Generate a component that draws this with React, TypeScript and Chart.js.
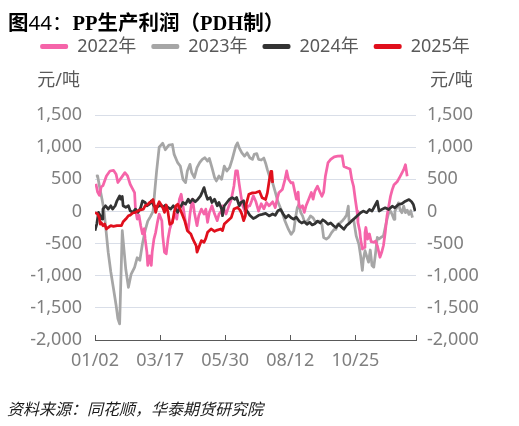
import { useEffect, useRef } from "react";
import { Chart, registerables } from "chart.js";

Chart.register(...registerables);

const FONT = '"Noto Sans", "Noto Sans CJK SC", sans-serif';

const seriesNames = ["2022年", "2023年", "2024年", "2025年"];
const seriesColors = ["#F564A9", "#A6A6A6", "#333333", "#E00F1C"];
const seriesOrder = [3, 4, 2, 1];

const tickDays = [0, 74, 148, 222, 296, 365];
const tickLabels = ["01/02", "03/17", "05/30", "08/12", "10/25", ""];

const yMin = -2000;
const yMax = 1500;
const yStep = 500;
const unitLabel = "元/吨";

const days2022 = [1, 3, 5, 7, 9, 13, 17, 21, 24, 26, 30, 34, 37, 40, 42, 45, 46, 48, 50, 52, 54, 56, 57, 59, 60, 62, 64, 65, 67, 69, 71, 73, 76, 77, 79, 81, 83, 85, 88, 91, 93, 96, 98, 100, 103, 106, 108, 110, 111, 113, 116, 118, 121, 124, 126, 128, 130, 133, 136, 139, 141, 144, 145, 149, 151, 155, 158, 160, 162, 164, 166, 168, 171, 174, 176, 178, 180, 183, 186, 189, 192, 195, 198, 202, 205, 207, 209, 213, 216, 218, 220, 223, 225, 227, 229, 231, 232, 234, 236, 238, 240, 243, 246, 248, 250, 253, 256, 258, 260, 262, 265, 268, 272, 276, 281, 283, 287, 290, 292, 294, 296, 298, 299, 301, 302, 304, 306, 307, 308, 310, 312, 314, 317, 319, 321, 322, 324, 326, 328, 330, 332, 334, 336, 338, 340, 342, 344, 347, 351, 353, 355];
const vals2022 = [430, 300, 250, 380, 400, 552, 629, 639, 577, 449, 526, 603, 552, 423, 371, 294, 36, -119, -60, -222, -350, -270, -428, -634, -840, -690, -840, -634, -430, -325, -170, -41, -144, -376, -634, -660, -430, -273, -144, -41, -119, 190, 268, 88, -170, -299, -41, 139, 190, -15, -222, -67, 36, -41, 36, -170, -15, 88, -41, -144, -41, 10, 88, -41, 36, 190, 397, 629, 629, 423, 242, 88, -15, 88, 88, 160, 242, 150, 5, 120, 40, 139, 88, 150, 60, 186, 289, 340, 495, 630, 500, 443, 449, 320, 190, 300, 82, 60, 88, -15, 88, 190, 294, 190, 314, 392, 294, 237, 300, 552, 760, 810, 850, 860, 866, 700, 675, 660, 495, 392, 185, 0, -174, -300, -430, -585, -560, -330, -250, -430, -350, -470, -480, -460, -533, -590, -713, -636, -530, -328, -72, 82, 236, 339, 416, 440, 470, 546, 650, 727, 546];

const days2023 = [1, 3, 5, 8, 10, 12, 15, 18, 21, 24, 26, 28, 31, 33, 35, 38, 41, 45, 48, 51, 54, 57, 60, 63, 66, 68, 70, 73, 77, 80, 84, 88, 90, 94, 97, 100, 103, 105, 108, 110, 113, 116, 119, 122, 125, 128, 130, 133, 136, 138, 141, 144, 147, 150, 153, 156, 160, 162, 164, 167, 170, 173, 176, 179, 181, 184, 186, 189, 192, 194, 196, 199, 202, 205, 208, 211, 213, 216, 220, 223, 226, 228, 230, 232, 234, 236, 238, 240, 243, 245, 248, 251, 255, 258, 260, 263, 266, 269, 272, 274, 276, 279, 281, 284, 286, 288, 289, 291, 294, 297, 300, 302, 304, 305, 307, 309, 311, 313, 315, 317, 319, 321, 323, 325, 328, 330, 332, 334, 336, 338, 340, 341, 343, 345, 347, 349, 351, 353, 355, 357, 359, 361];
const vals2023 = [550, 552, 397, 190, 36, -222, -634, -943, -1200, -1459, -1665, -1750, -300, -600, -900, -1180, -980, -870, -720, -760, -500, -300, -150, -80, 0, 320, 620, 1000, 1060, 960, 1030, 1041, 887, 758, 706, 500, 448, 629, 732, 603, 526, 680, 758, 809, 835, 783, 825, 680, 526, 474, 551, 500, 706, 629, 680, 809, 1015, 1067, 990, 912, 861, 912, 835, 809, 887, 900, 809, 800, 830, 750, 650, 520, 443, 300, 150, 50, -20, -150, -280, -356, -300, -100, 57, 108, -20, -70, -150, -175, -120, -70, -100, -175, -150, -200, -407, -430, -400, -330, -280, -278, -200, -174, -150, -100, -60, 82, -174, -150, -123, -380, -508, -687, -918, -760, -610, -700, -790, -600, -841, -867, -650, -405, -430, -405, -380, -250, -123, -20, 5, -50, -123, 5, 56, 133, 20, -20, 82, -20, 20, -46, 10, -97];

const days2024 = [0, 2, 4, 6, 8, 9, 12, 15, 18, 20, 23, 25, 28, 29, 31, 32, 35, 38, 40, 43, 46, 49, 52, 54, 57, 59, 62, 64, 67, 70, 73, 76, 78, 80, 83, 86, 89, 92, 94, 97, 100, 103, 106, 108, 111, 114, 117, 120, 122, 124, 126, 128, 131, 133, 136, 139, 141, 144, 145, 147, 150, 153, 156, 159, 161, 164, 166, 169, 171, 174, 176, 180, 183, 186, 190, 194, 198, 202, 205, 208, 211, 214, 217, 220, 223, 226, 229, 232, 235, 238, 241, 244, 247, 250, 253, 256, 259, 262, 265, 268, 271, 274, 277, 279, 283, 286, 290, 294, 298, 302, 305, 309, 312, 315, 319, 321, 323, 326, 330, 334, 338, 341, 345, 349, 353, 357, 360, 362, 364];
const vals2024 = [-299, -196, -15, -67, -119, 36, 88, 36, 88, 36, 88, 165, 242, 190, 232, 88, 62, 88, 10, -15, 36, -15, 62, 165, 139, 88, 113, 165, 88, 62, 88, 88, 62, 98, 62, 36, 88, 36, -15, 62, 139, 113, 190, 139, 190, 150, 190, 242, 304, 371, 268, 190, 216, 139, 190, 88, 139, 36, -67, 88, 139, 190, 216, 190, 216, 88, 139, 165, 36, -15, -60, -110, -90, -60, -46, -30, -70, -40, -60, 10, 31, -40, -100, -60, -100, -120, -90, -150, -180, -160, -200, -170, -210, -190, -150, -180, -130, -160, -200, -180, -220, -250, -200, -226, -277, -220, -174, -123, -72, -20, 5, -20, 30, 5, 108, 159, 5, 30, 56, 30, 82, 56, 108, 120, 159, 185, 150, 108, 5];

const days2025 = [0, 3, 5, 6, 7, 9, 11, 13, 15, 18, 21, 25, 28, 30, 32, 35, 38, 40, 43, 46, 49, 52, 55, 57, 60, 62, 64, 66, 68, 69, 71, 73, 75, 77, 79, 81, 83, 85, 88, 90, 92, 94, 96, 99, 102, 105, 109, 111, 113, 115, 116, 118, 121, 124, 126, 128, 132, 136, 139, 143, 145, 147, 151, 155, 158, 162, 165, 167, 169, 171, 172, 175, 179, 183, 187, 190, 194, 196, 198, 200, 201, 202];
const vals2025 = [-15, -41, -100, -196, -170, -222, -196, -273, -250, -222, -232, -222, -222, -222, -160, -119, -67, -57, -25, -15, 10, 25, 36, 88, 109, 139, 150, 186, 60, -15, 88, 150, 109, 60, -15, 100, -15, -200, -176, -15, 88, 113, 60, -40, -144, -299, -350, -420, -479, -531, -634, -560, -454, -480, -420, -325, -273, -310, -290, -273, -299, -196, -144, -93, 36, 62, 20, -41, -144, -67, 113, 268, 289, 294, 314, 211, 186, 289, 469, 624, 624, 443];

const seriesDays = [days2022, days2023, days2024, days2025];
const seriesVals = [vals2022, vals2023, vals2024, vals2025];

const tickMarksPlugin = {
  id: "tickMarks",
  afterDraw(chart: any) {
    const xs = chart.scales.x;
    const ctx = chart.ctx;
    ctx.save();
    ctx.strokeStyle = "#595959";
    ctx.lineWidth = 1;
    xs.ticks.forEach((t: any) => {
      const px = Math.round(xs.getPixelForValue(t.value)) + 0.5;
      ctx.beginPath();
      ctx.moveTo(px, xs.top);
      ctx.lineTo(px, xs.top - 5);
      ctx.stroke();
    });
    ctx.restore();
  },
};

const unitPlugin = {
  id: "unitLabels",
  afterDraw(chart: any) {
    const ctx = chart.ctx;
    const yl = chart.scales.y;
    const yr = chart.scales.y2;
    ctx.save();
    ctx.font = `18px ${FONT}`;
    ctx.fillStyle = "#595959";
    ctx.textBaseline = "middle";
    ctx.textAlign = "right";
    ctx.fillText(unitLabel, yl.right - 15, 81);
    ctx.textAlign = "left";
    ctx.fillText(unitLabel, yr.left + 14, 81);
    ctx.restore();
  },
};

export default function App() {
  const ref = useRef<HTMLCanvasElement>(null);

  useEffect(() => {
    if (!ref.current) return;
    const datasets = seriesNames.map((name, i) => ({
      label: name,
      data: seriesDays[i].map((d, k) => ({ x: d, y: seriesVals[i][k] })),
      borderColor: seriesColors[i],
      backgroundColor: seriesColors[i],
      borderWidth: 2.75,
      pointRadius: 0,
      tension: 0,
      borderJoinStyle: "round" as const,
      order: seriesOrder[i],
      yAxisID: "y",
    }));

    const chart = new Chart(ref.current, {
      type: "line",
      data: { datasets },
      plugins: [tickMarksPlugin, unitPlugin],
      options: {
        animation: false,
        responsive: false,
        layout: { padding: { top: 22.5, left: 0, right: 9, bottom: 0 } },
        plugins: {
          tooltip: { enabled: false },
          legend: {
            position: "top",
            labels: {
              boxWidth: 28,
              boxHeight: 5,
              padding: 15,
              color: "#595959",
              font: { size: 18, family: FONT },
              useBorderRadius: true,
              borderRadius: 2,
              generateLabels: (c: any) =>
                c.data.datasets.map((ds: any, i: number) => ({
                  text: ds.label,
                  fillStyle: ds.borderColor,
                  strokeStyle: ds.borderColor,
                  lineWidth: 0,
                  hidden: false,
                  datasetIndex: i,
                  borderRadius: 2,
                  fontColor: "#595959",
                })),
            },
          },
          subtitle: {
            display: true,
            text: "",
            position: "top",
            weight: 500,
            font: { size: 10, lineHeight: 1 },
            padding: { top: 20, bottom: 19.5 },
          } as any,
        },
        scales: {
          x: {
            type: "linear",
            min: 0,
            max: 365,
            grid: { display: false, drawTicks: false },
            border: { display: true, color: "#595959", width: 1 },
            afterBuildTicks: (s: any) => {
              s.ticks = tickDays.map((v) => ({ value: v }));
            },
            afterFit: (s: any) => {
              s.height = 86;
            },
            ticks: {
              autoSkip: false,
              maxRotation: 0,
              padding: 10,
              color: "#7F7F7F",
              font: { size: 18, family: FONT },
              callback: (v: any) => {
                const i = tickDays.indexOf(Number(v));
                return i >= 0 ? tickLabels[i] : "";
              },
            },
          },
          y: {
            type: "linear",
            position: "left",
            min: yMin,
            max: yMax,
            grid: { color: "#D9DEE8", lineWidth: 1, drawTicks: false },
            border: { display: false },
            afterFit: (s: any) => {
              s.width = 95;
            },
            ticks: {
              stepSize: yStep,
              padding: 13,
              color: "#7F7F7F",
              font: { size: 18, family: FONT },
              callback: (v: any) => Number(v).toLocaleString("en-US"),
            },
          },
          y2: {
            type: "linear",
            position: "right",
            min: yMin,
            max: yMax,
            grid: { display: false, drawTicks: false },
            border: { display: false },
            afterFit: (s: any) => {
              s.width = 94;
            },
            ticks: {
              stepSize: yStep,
              padding: 11,
              color: "#7F7F7F",
              font: { size: 18, family: FONT },
              callback: (v: any) => Number(v).toLocaleString("en-US"),
            },
          },
        },
      },
    });
    return () => chart.destroy();
  }, []);

  return (
    <div style={{ position: "absolute", left: 0, top: 0, width: 519, height: 426, background: "#fff", overflow: "hidden" }}>
      <canvas ref={ref} width={519} height={426} style={{ position: "absolute", left: 0, top: 0, width: 519, height: 426 }} />
      <div style={{ position: "absolute", left: 8, top: 10, fontSize: 20.5, lineHeight: "22px", whiteSpace: "nowrap", color: "#000" }}>
        <span style={{ fontFamily: '"Noto Sans CJK SC"', fontWeight: "bold" }}>图</span>
        <span style={{ fontFamily: '"Noto Sans", "Noto Sans CJK SC"' }}>44：</span>
        <span style={{ fontFamily: '"Liberation Serif", "Noto Sans CJK SC"', fontWeight: "bold" }}>PP生产利润（PDH制）</span>
      </div>
      <div style={{ position: "absolute", left: 7, top: 398, fontSize: 16, lineHeight: "20px", fontStyle: "italic", fontFamily: '"Noto Sans CJK SC"', color: "#1A1A1A", whiteSpace: "nowrap" }}>
        资料来源：同花顺，华泰期货研究院
      </div>
    </div>
  );
}
